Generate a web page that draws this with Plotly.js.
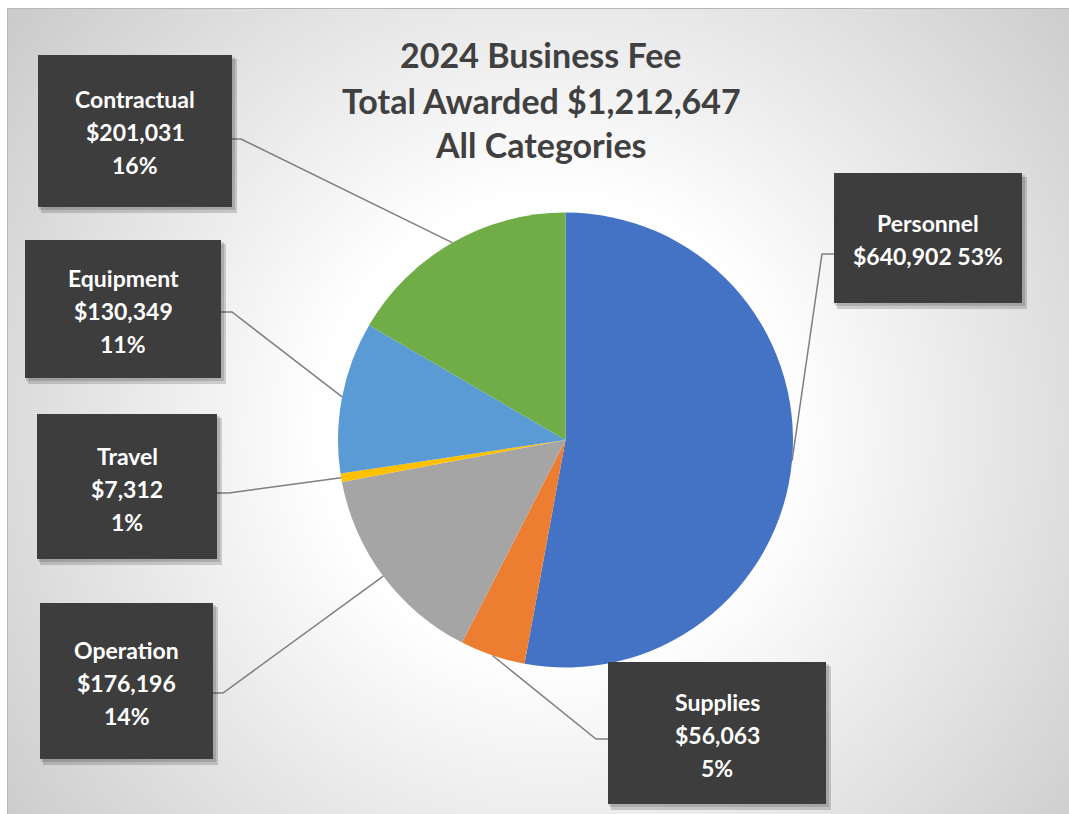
<!DOCTYPE html>
<html>
<head>
<meta charset="utf-8">
<script src="https://cdn.plot.ly/plotly-3.0.1.min.js"></script>
<style>
  html, body { margin: 0; padding: 0; background: #ffffff; }
  #bg {
    position: absolute; left: 7px; top: 8px; width: 1062px; height: 806px;
    box-sizing: border-box; border-top: 1px solid #b8b8b8; border-left: 1px solid #b8b8b8;
    background: radial-gradient(circle at 545px 420px, #ffffff 0px, #ffffff 230px, #c2c2c2 760px);
  }
  #chart { position: absolute; left: 0; top: 0; width: 1069px; height: 814px; }
</style>
</head>
<body>
<div id="bg"></div>
<div id="chart"></div>
<script>
// ---- data ----
const categories = ["Personnel", "Supplies", "Operation", "Travel", "Equipment", "Contractual"];
const amounts = [640902, 56063, 176196, 7312, 130349, 201031];
const amountLabels = ["$640,902", "$56,063", "$176,196", "$7,312", "$130,349", "$201,031"];
const percentLabels = ["53%", "5%", "14%", "1%", "11%", "16%"];
const sliceColors = ["#4472C4", "#ED7D31", "#A5A5A5", "#FFC000", "#5B9BD5", "#70AD47"];
const titleLines = ["2024 Business Fee", "Total Awarded $1,212,647", "All Categories"];

// ---- layout geometry (pixels) ----
const W = 1069, H = 814;
const cx = 565.5, cy = 440, R = 227.5;
// label boxes: [x0, y0, x1, y1], attach y, elbow x, text line centres
const boxes = {
  "Personnel":   {b: [834, 173, 1022, 303], ay: 254, ex: 822, side: "left",  lines: [223, 256], merged: true},
  "Supplies":    {b: [608, 662, 826, 804], ay: 739, ex: 596, side: "left",  lines: [702, 735, 768]},
  "Operation":   {b: [40, 603, 213, 759],  ay: 693, ex: 223, side: "right", lines: [650, 683, 716]},
  "Travel":      {b: [37, 414, 217, 559],  ay: 493, ex: 229, side: "right", lines: [456, 489, 522]},
  "Equipment":   {b: [25, 240, 221, 378],  ay: 312, ex: 232, side: "right", lines: [278, 311, 344]},
  "Contractual": {b: [38, 55, 232, 207],   ay: 139, ex: 241, side: "right", lines: [99, 132, 165]}
};

const px = x => x / W;
const py = y => 1 - y / H;

const trace = {
  type: "pie",
  labels: categories,
  values: amounts,
  sort: false,
  direction: "clockwise",
  rotation: 0,
  marker: {colors: sliceColors, line: {width: 0}},
  textinfo: "none",
  hovertemplate: "%{label}<br>%{value:$,}<extra></extra>",
  domain: {x: [px(cx - R), px(cx + R)], y: [py(cy + R), py(cy - R)]},
  showlegend: false
};

const shapes = [];
const annotations = [];

// leader lines: from box through elbow to the slice's mid-angle on the pie edge
const total = amounts.reduce((a, b) => a + b, 0);
let cum = 0;
categories.forEach((cat, i) => {
  const mid = (cum + amounts[i] / 2) / total;
  cum += amounts[i];
  const ang = mid * 2 * Math.PI;
  const ex = cx + R * Math.sin(ang);
  const ey = cy - R * Math.cos(ang);
  const bx = boxes[cat];
  const attachX = bx.side === "right" ? bx.b[2] : bx.b[0];
  shapes.push({
    type: "path", xref: "paper", yref: "paper",
    path: `M ${px(attachX)},${py(bx.ay)} L ${px(bx.ex)},${py(bx.ay)} L ${px(ex)},${py(ey)}`,
    line: {color: "#7f7f7f", width: 1.5}, layer: "above"
  });
  // shadow
  shapes.push({
    type: "rect", xref: "paper", yref: "paper",
    x0: px(bx.b[0] + 3), x1: px(bx.b[2] + 5), y0: py(bx.b[1] + 4), y1: py(bx.b[3] + 6),
    fillcolor: "rgba(0,0,0,0.16)", line: {width: 0}, layer: "above"
  });
  shapes.push({
    type: "rect", xref: "paper", yref: "paper",
    x0: px(bx.b[0] + 1), x1: px(bx.b[2] + 3), y0: py(bx.b[1] + 2), y1: py(bx.b[3] + 3),
    fillcolor: "rgba(0,0,0,0.14)", line: {width: 0}, layer: "above"
  });
  // box
  shapes.push({
    type: "rect", xref: "paper", yref: "paper",
    x0: px(bx.b[0]), x1: px(bx.b[2]), y0: py(bx.b[1]), y1: py(bx.b[3]),
    fillcolor: "#3d3d3d", line: {width: 0}, layer: "above"
  });
  const texts = bx.merged ? [cat, amountLabels[i] + " " + percentLabels[i]]
                          : [cat, amountLabels[i], percentLabels[i]];
  const mx = (bx.b[0] + bx.b[2]) / 2;
  texts.forEach((t, k) => {
    annotations.push({
      xref: "paper", yref: "paper", x: px(mx), y: py(bx.lines[k]),
      xanchor: "center", yanchor: "middle", showarrow: false, text: "<b>" + t + "</b>",
      font: {family: "Lato, 'Open Sans', sans-serif", size: 23, color: "#ffffff"}
    });
  });
});

const titleY = [55, 100, 144];
titleLines.forEach((t, k) => {
  annotations.push({
    xref: "paper", yref: "paper", x: px(541), y: py(titleY[k]),
    xanchor: "center", yanchor: "middle", showarrow: false, text: "<b>" + t + "</b>",
    font: {family: "Lato, 'Open Sans', sans-serif", size: 34, color: "#404040"}
  });
});

const layout = {
  width: W, height: H,
  margin: {l: 0, r: 0, t: 0, b: 0},
  paper_bgcolor: "rgba(0,0,0,0)",
  plot_bgcolor: "rgba(0,0,0,0)",
  showlegend: false,
  shapes: shapes,
  annotations: annotations
};

Plotly.newPlot("chart", [trace], layout, {displayModeBar: false, staticPlot: false});
</script>
</body>
</html>
